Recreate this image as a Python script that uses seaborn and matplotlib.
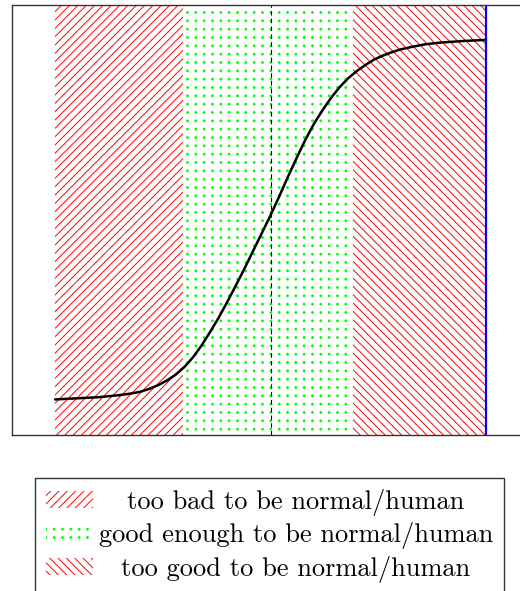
import numpy as np
import matplotlib
matplotlib.use("Agg")
import matplotlib.pyplot as plt
import matplotlib.hatch as mhatch
from matplotlib.path import Path
import seaborn as sns

# curve
x_curve = [-5.0, -4.5, -4.0, -3.5, -3.2, -3.0, -2.8, -2.6, -2.4, -2.2,
           -2.0, -1.8, -1.6, -1.4, -1.2, -1.0, -0.8, -0.6, -0.4, -0.2,
           0.0, 0.2, 0.4, 0.6, 0.8, 1.0, 1.2, 1.4, 1.6, 1.8,
           2.0, 2.2, 2.4, 2.6, 2.8, 3.0, 3.3, 3.6, 4.0, 4.5, 5.0]
y_curve = [0.0, 0.003, 0.006, 0.012, 0.017, 0.022, 0.030, 0.040, 0.053, 0.069,
           0.090, 0.117, 0.150, 0.188, 0.228, 0.272, 0.318, 0.365, 0.414, 0.463,
           0.512, 0.564, 0.618, 0.670, 0.720, 0.765, 0.803, 0.838, 0.868, 0.893,
           0.913, 0.930, 0.945, 0.956, 0.965, 0.973, 0.981, 0.988, 0.993, 0.997, 1.0]

# regions
region_labels = ["too bad to be normal/human",
                 "good enough to be normal/human",
                 "too good to be normal/human"]
region_bounds = [-5.0, -2.04, 1.91, 5.0]
region_hatches = ["////", "..", "\\\\\\\\"]
region_colors = ["red", "lime", "red"]
center_x = 0.0
limit_x = 5.0


# square grid of dots instead of matplotlib's staggered '.' hatch
class GridDots(mhatch.Shapes):
    size = 0.11
    filled = True

    def __init__(self, hatch, density):
        self.num_rows = hatch.count('.') * density
        self.shape_vertices = Path.unit_circle().vertices
        self.shape_codes = Path.unit_circle().codes
        self.num_shapes = self.num_rows * self.num_rows
        self.num_vertices = self.num_shapes * len(self.shape_vertices)

    def set_vertices_and_codes(self, vertices, codes):
        step = 1.0 / self.num_rows
        sv = self.shape_vertices * step * self.size
        pos = (np.arange(self.num_rows) + 0.5) * step
        np.concatenate([sv + [px, py] for py in pos for px in pos], out=vertices)
        np.concatenate([self.shape_codes] * self.num_shapes, out=codes)


mhatch._hatch_types[mhatch._hatch_types.index(mhatch.SmallFilledCircles)] = GridDots

sns.set_style("white")
plt.rcParams['font.family'] = ['cmr10', 'DejaVu Serif']
plt.rcParams['mathtext.fontset'] = 'cm'
plt.rcParams['axes.formatter.use_mathtext'] = True
plt.rcParams['hatch.linewidth'] = 0.7

fig = plt.figure(figsize=(5.2, 5.91), dpi=100)
ax = fig.add_axes([12 / 520, 1 - 435 / 591, 1 - 12 / 520, 430 / 591])

spans = []
for i in range(len(region_labels)):
    sp = ax.axvspan(region_bounds[i], region_bounds[i + 1], facecolor='none',
                    edgecolor=region_colors[i], hatch=region_hatches[i],
                    linewidth=0)
    spans.append(sp)

ax.axvline(center_x, color='black', linestyle=(0, (4, 3)), linewidth=0.8)
sns.lineplot(x=x_curve, y=y_curve, color='black', linewidth=1.8, ax=ax,
             legend=False)
ax.axvline(limit_x, color='blue', linewidth=1.6)

ax.set_xlim(-6.0, 5.79)
ax.set_ylim(-0.099, 1.097)
ax.set_xticks([])
ax.set_yticks([])
ax.set(xlabel='', ylabel='')
ax.spines['right'].set_visible(False)
for s in ['left', 'top', 'bottom']:
    ax.spines[s].set_color('0.2')
    ax.spines[s].set_linewidth(1.0)

leg = fig.legend(spans, region_labels, loc='upper center',
                 bbox_to_anchor=(269.5 / 520, 1 - 478 / 591),
                 fontsize=19, fancybox=False, framealpha=1, edgecolor='0.2',
                 borderpad=0.4, handlelength=1.8, handleheight=0.6,
                 handletextpad=0.2, labelspacing=0.25, borderaxespad=0,
                 labelcolor='black')
leg.get_frame().set_linewidth(1.0)

# centre the label texts like the original
fig.canvas.draw()
r = fig.canvas.get_renderer()
texts = leg.get_texts()
widths = [t.get_window_extent(r).width for t in texts]
for t, w in zip(texts, widths):
    t.set_x((max(widths) - w) / 2)

plt.savefig('out.png', dpi=100)
